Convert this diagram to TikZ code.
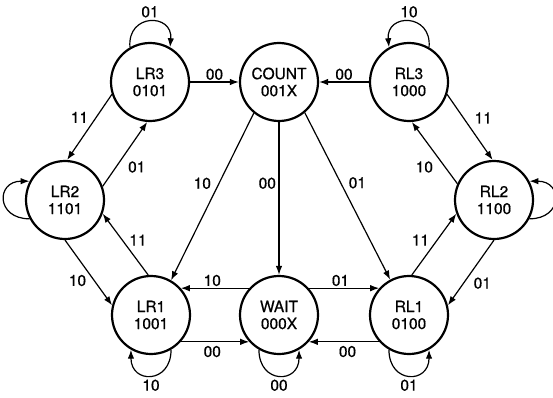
\documentclass[tikz,border=0pt]{standalone}
\usepackage{fontspec}
\setmainfont[FakeBold=0.6]{TeX Gyre Heros}
\usepackage{tikz}
\usetikzlibrary{arrows.meta}

\begin{document}
\begin{tikzpicture}[>={Latex[length=9pt, width=6.5pt]}, x=1pt, y=1pt,
    font=\fontsize{15.5}{17}\selectfont,
    state/.style={circle, draw, line width=2.2pt, minimum size=78pt, inner sep=0pt, align=center},
    trans/.style={->, line width=1.2pt},
    lbl/.style={inner sep=1.5pt}]
  \useasboundingbox (0,0) rectangle (553,397);
  % Stavy
  \node[state] (lr3) at (150,315) {LR3\\0101};
  \node[state] (count) at (279,315) {COUNT\\001X};
  \node[state] (rl3) at (409,315) {RL3\\1000};
  \node[state] (lr2) at (65,197) {LR2\\1101};
  \node[state] (rl2) at (494,197) {RL2\\1100};
  \node[state] (lr1) at (151,82) {LR1\\1001};
  \node[state] (wait) at (279,82) {WAIT\\000X};
  \node[state] (rl1) at (409,82) {RL1\\0100};
  % Prechody
  \draw[trans] (lr3) -- node[lbl, above] {00} (count);
  \draw[trans] (rl3) -- node[lbl, above] {00} (count);
  \draw[trans] (lr3.198) -- node[lbl, pos=0.35, left=6pt] {11} (lr2.87);
  \draw[trans] (lr2.20) -- node[lbl, pos=0.3, right=10pt] {01} (lr3.266);
  \draw[trans] (count.231) -- node[lbl, pos=0.42, left=6pt] {10} (lr1.60);
  \draw[trans] (count) -- node[lbl, pos=0.4, left=1pt] {00} (wait);
  \draw[trans] (count.310) -- node[lbl, pos=0.42, right=6pt] {01} (rl1.118);
  \draw[trans] (rl2.156) -- node[lbl, pos=0.27, left=10pt] {10} (rl3.274);
  \draw[trans] (rl3.342) -- node[lbl, pos=0.36, right=9pt] {11} (rl2.92);
  \draw[trans] (lr2.270) -- node[lbl, pos=0.62, left=6pt] {10} (lr1.166);
  \draw[trans] (lr1.94) -- node[lbl, pos=0.57, right=5pt] {11} (lr2.340);
  \draw[trans] (rl1.86) -- node[lbl, pos=0.57, left=6pt] {11} (rl2.200);
  \draw[trans] (rl2.270) -- node[lbl, pos=0.66, right=8pt] {01} (rl1.14);
  \draw[trans] (wait.138) -- node[lbl, pos=0.54, above] {10} (lr1.42);
  \draw[trans] (lr1.-42) -- node[lbl, pos=0.46, below=2pt] {00} (wait.222);
  \draw[trans] (wait.42) -- node[lbl, pos=0.45, above] {01} (rl1.138);
  \draw[trans] (rl1.222) -- node[lbl, pos=0.45, below=2pt] {00} (wait.-42);
  % Smycky
  \draw[trans] (lr3.120) to[out=95, in=85, looseness=2.2] node[lbl, above=2pt] {01} (lr3.60);
  \draw[trans] (rl3.60) to[out=85, in=95, looseness=2.2] node[lbl, above=2pt] {10} (rl3.120);
  \draw[trans] (lr2.208) to[out=180, in=180, looseness=2.3] (lr2.152);
  \draw[trans] (rl2.332) to[out=0, in=0, looseness=2.3] (rl2.28);
  \draw[trans] (lr1.300) to[out=-90, in=-90, looseness=2.2] node[lbl, below=2pt] {10} (lr1.240);
  \draw[trans] (wait.240) to[out=-90, in=-90, looseness=2.2] node[lbl, below=2pt] {00} (wait.300);
  \draw[trans] (rl1.240) to[out=-90, in=-90, looseness=2.2] node[lbl, below=2pt] {01} (rl1.300);
\end{tikzpicture}
\end{document}
